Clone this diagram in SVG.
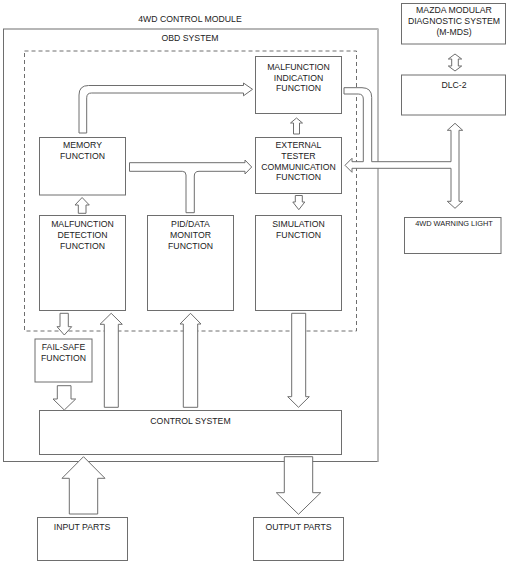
<svg xmlns="http://www.w3.org/2000/svg" width="511" height="564" viewBox="0 0 511 564">
<style>
.box{fill:#fff;stroke:#6e6e6e;stroke-width:1}
.frame{fill:none;stroke:#6e6e6e;stroke-width:1}
.dash{fill:none;stroke:#6e6e6e;stroke-width:1;stroke-dasharray:4 3}
.arr{fill:#fff;stroke:#6e6e6e;stroke-width:1;stroke-linejoin:miter}
.t{font-family:"Liberation Sans",Arial,sans-serif;font-size:8.7px;fill:#222;text-anchor:middle}
.s{font-size:7.4px}
</style>
<rect width="511" height="564" fill="#fff"/>

<g id="control-module">
<rect class="frame" x="3.5" y="29" width="374.5" height="432.5"/>
<line x1="378" y1="29" x2="378" y2="461.5" stroke="#bbb" stroke-width="2"/>
<text class="t" x="190" y="22">4WD CONTROL MODULE</text>
</g>

<g id="obd-system">
<rect class="dash" x="24.5" y="51" width="332" height="280"/>
<text class="t" x="190" y="41">OBD SYSTEM</text>
</g>

<g id="connectors">
<path class="arr" d="M79,133 L79,95 Q79,85.5 88.5,85.5 L243.5,85.5 L243.5,83 L252.5,89.3 L243.5,95.8 L243.5,93 L91.5,93 Q86.7,93 86.7,97.8 L86.7,133 Z"/>
<path class="arr" d="M129.5,162.7 L245,162.7 L245,160 L251.7,167 L245,174 L245,171.3 L199,171.3 Q194.3,171.3 194.3,176 L194.3,212.7 L186,212.7 L186,175 Q186,171.3 182.3,171.3 L129.5,171.3 Z"/>
<path class="arr" d="M293.5,134 L293.5,123 L290.5,123 L296.5,118 L302.5,123 L299.5,123 L299.5,134 Z"/>
<path class="arr" d="M295.3,195.5 L302.3,195.5 L302.3,202 L304.8,202 L298.8,209.7 L292.8,202 L295.3,202 Z"/>
<path class="arr" d="M78.3,213.3 L78.3,205 L75,205 L82.1,197.5 L89.3,205 L86,205 L86,213.3 Z"/>
<path class="arr" d="M345,165.3 L352,158.3 L352,161.7 L363.3,161.7 L363.3,99 Q363.3,94 358.3,94 L344,94 L344,87.7 L362,87.7 Q371.7,87.7 371.7,97.4 L371.7,161.7 L451,161.7 L451,130.3 L447.3,130.3 L455,123.3 L462.7,130.3 L459,130.3 L459,201.3 L462.7,201.3 L455,208.3 L447.3,201.3 L451,201.3 L451,168.3 L352,168.3 L352,172.3 Z"/>
<path class="arr" d="M455,54 L461.7,59 L458.3,59 L458.3,66 L461.7,66 L455,71 L448.3,66 L451.7,66 L451.7,59 L448.3,59 Z"/>
<path class="arr" d="M104.3,407.3 L104.3,324.3 L100,324.3 L111.2,313.3 L122.3,324.3 L118.3,324.3 L118.3,407.3 Z"/>
<path class="arr" d="M60,313.3 L68.3,313.3 L68.3,326.7 L71.7,326.7 L64.3,335 L57,326.7 L60,326.7 Z"/>
<path class="arr" d="M57.3,385.7 L71,385.7 L71,399 L75.7,399 L64.3,410 L53,399 L57.3,399 Z"/>
<path class="arr" d="M183.3,407.3 L183.3,324 L180,324 L190.5,313.3 L201,324 L197.7,324 L197.7,407.3 Z"/>
<path class="arr" d="M291.7,313.3 L305.7,313.3 L305.7,396.7 L309.3,396.7 L298.5,407.3 L287.7,396.7 L291.7,396.7 Z"/>
<path class="arr" d="M69.3,514 L69.3,478.3 L62,478.3 L83.5,456.7 L105,478.3 L97.7,478.3 L97.7,514 Z"/>
<path class="arr" d="M284.3,456.7 L312.7,456.7 L312.7,492.7 L320.7,492.7 L298.5,514.3 L276.3,492.7 L284.3,492.7 Z"/>
</g>

<g id="malfunction-indication">
<rect class="box" x="255.5" y="56.5" width="86" height="57"/>
<text class="t" x="298.5" y="69.8">MALFUNCTION</text>
<text class="t" x="298.5" y="80.5">INDICATION</text>
<text class="t" x="298.5" y="91.3">FUNCTION</text>
</g>

<g id="external-tester">
<rect class="box" x="255.5" y="137.5" width="86" height="56"/>
<text class="t" x="298.5" y="148.2">EXTERNAL</text>
<text class="t" x="298.5" y="158.9">TESTER</text>
<text class="t" x="298.5" y="169.6">COMMUNICATION</text>
<text class="t" x="298.5" y="180.3">FUNCTION</text>
</g>

<g id="memory">
<rect class="box" x="39.5" y="137.5" width="86" height="57.5"/>
<text class="t" x="82.5" y="148.2">MEMORY</text>
<text class="t" x="82.5" y="158.9">FUNCTION</text>
</g>

<g id="malfunction-detection">
<rect class="box" x="39.5" y="215.5" width="86" height="95"/>
<text class="t" x="82.5" y="227.2">MALFUNCTION</text>
<text class="t" x="82.5" y="237.9">DETECTION</text>
<text class="t" x="82.5" y="248.6">FUNCTION</text>
</g>

<g id="pid-data">
<rect class="box" x="147.5" y="215.5" width="86" height="95"/>
<text class="t" x="190.5" y="227.2">PID/DATA</text>
<text class="t" x="190.5" y="237.9">MONITOR</text>
<text class="t" x="190.5" y="248.6">FUNCTION</text>
</g>

<g id="simulation">
<rect class="box" x="255.5" y="215.5" width="86" height="95"/>
<text class="t" x="298.5" y="227.2">SIMULATION</text>
<text class="t" x="298.5" y="237.9">FUNCTION</text>
</g>

<g id="fail-safe">
<rect class="box" x="35" y="339" width="57" height="43" stroke="#999"/>
<text class="t" x="63.5" y="350.4">FAIL-SAFE</text>
<text class="t" x="63.5" y="361.2">FUNCTION</text>
</g>

<g id="control-system">
<rect class="box" x="39.5" y="410.5" width="302" height="44"/>
<text class="t" x="190.5" y="423.8">CONTROL SYSTEM</text>
</g>

<g id="input-parts">
<rect class="box" x="37.5" y="517.5" width="90" height="43"/>
<text class="t" x="82" y="530.4">INPUT PARTS</text>
</g>

<g id="output-parts">
<rect class="box" x="253.5" y="517.5" width="90" height="43"/>
<text class="t" x="298.5" y="530.4">OUTPUT PARTS</text>
</g>

<g id="m-mds">
<rect class="box" x="401.5" y="3.5" width="104" height="40.5"/>
<text class="t" x="454" y="12.6">MAZDA MODULAR</text>
<text class="t" x="454" y="23.8">DIAGNOSTIC SYSTEM</text>
<text class="t" x="454" y="35.2">(M-MDS)</text>
</g>

<g id="dlc-2">
<rect class="box" x="401.5" y="75" width="104" height="40"/>
<text class="t" x="454" y="88">DLC-2</text>
</g>

<g id="warning-light">
<rect class="box" x="404.5" y="217.5" width="96.5" height="36"/>
<text class="t s" x="454" y="226.2">4WD WARNING LIGHT</text>
</g>
</svg>
